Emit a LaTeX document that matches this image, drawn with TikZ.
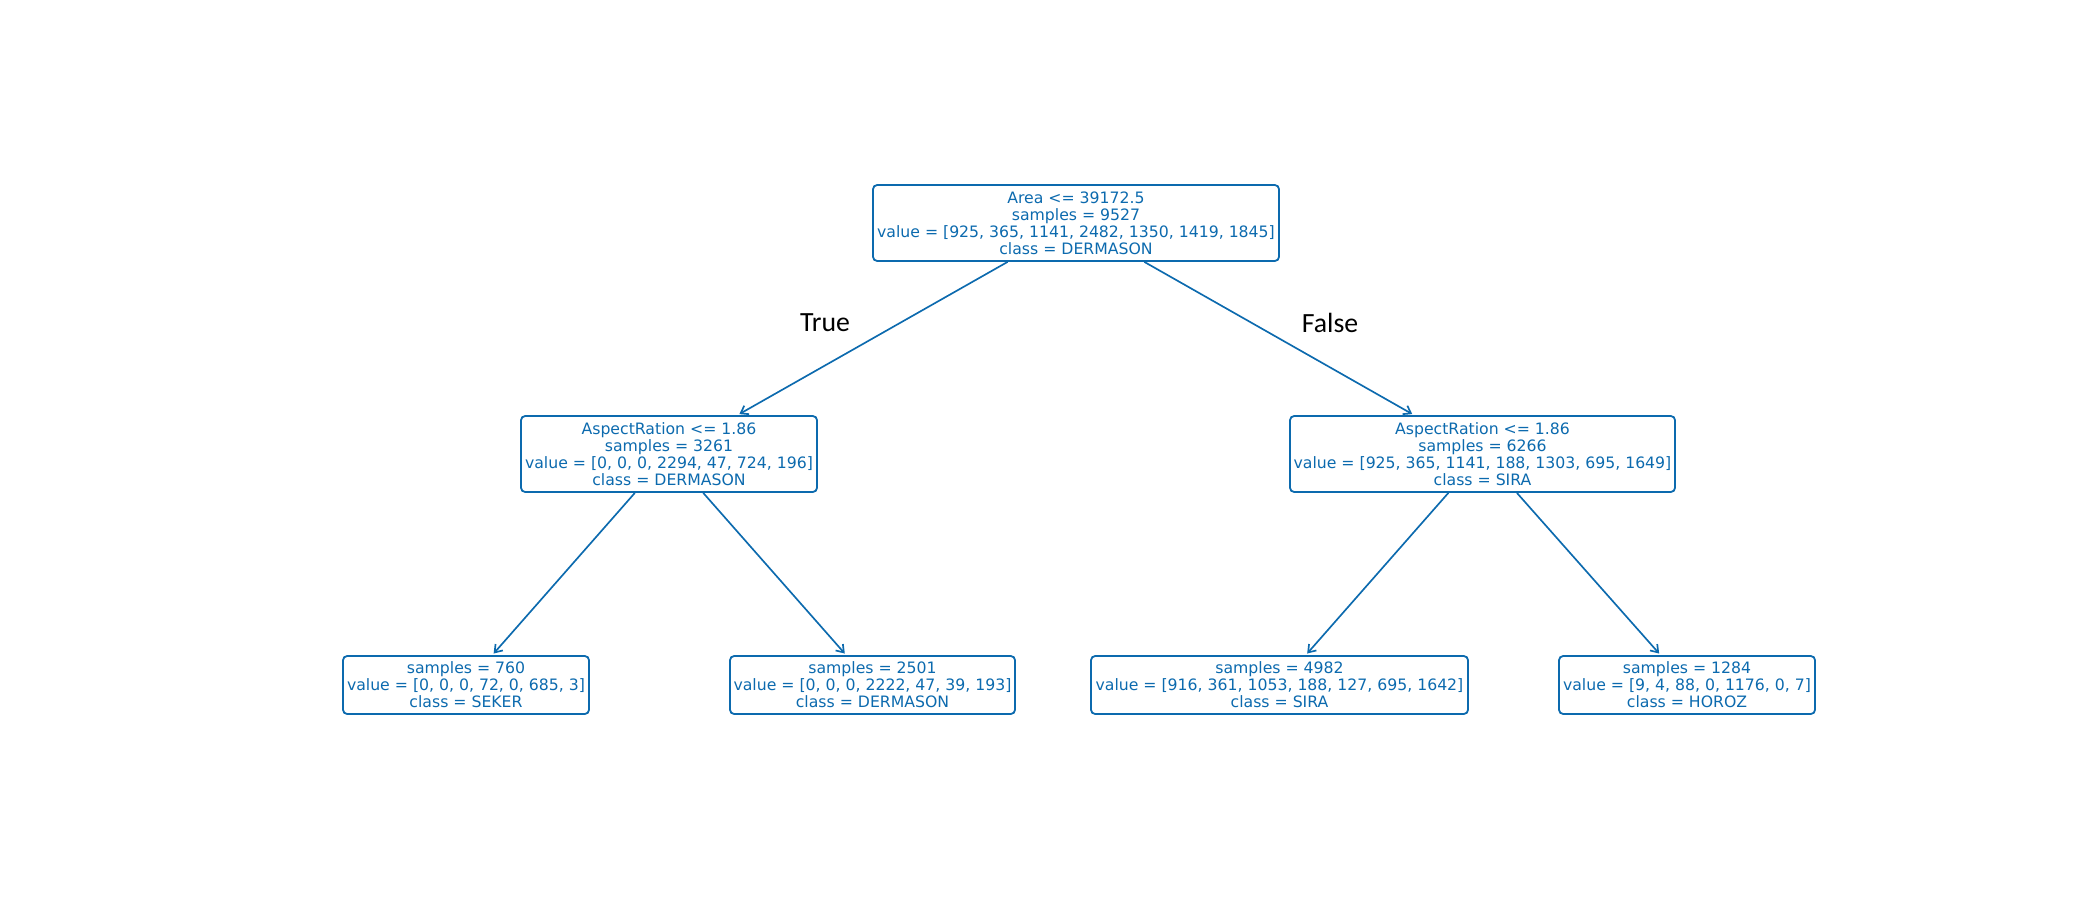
\documentclass[tikz,border=0pt]{standalone}
\usepackage{fontspec}
\setmainfont{DejaVu Sans}
\newfontfamily\lblfont{Carlito}
\usetikzlibrary{arrows.meta}
\definecolor{treeblue}{RGB}{12,106,174}
\tikzset{
  treenode/.style={draw=treeblue, text=treeblue, line width=1.3pt, rounded corners=3pt,
    align=center, inner sep=0pt, font=\fontsize{11.3}{12.3}\selectfont},
  inner4/.style={treenode, minimum height=76*0.72pt},
  leaf3/.style={treenode, minimum height=58*0.72pt},
  edge/.style={draw=treeblue, line width=1.2pt, -{Straight Barb[length=5pt,width=7pt,line width=1.2pt]}, shorten >=1.5pt},
  branchlbl/.style={font=\lblfont\fontsize{20}{24}\selectfont, text=black}
}
\begin{document}
\begin{tikzpicture}[x=0.72pt,y=-0.72pt]
\useasboundingbox (0,0) rectangle (2100,900);
\node[inner4, minimum width=406*0.72pt] (root) at (1076,223)
  {Area <= 39172.5\\samples = 9527\\value = [925, 365, 1141, 2482, 1350, 1419, 1845]\\class = DERMASON};
\node[inner4, minimum width=296*0.72pt] (l) at (669,454)
  {AspectRation <= 1.86\\samples = 3261\\value = [0, 0, 0, 2294, 47, 724, 196]\\class = DERMASON};
\node[inner4, minimum width=385*0.72pt] (r) at (1482.5,454)
  {AspectRation <= 1.86\\samples = 6266\\value = [925, 365, 1141, 188, 1303, 695, 1649]\\class = SIRA};
\node[leaf3, minimum width=246*0.72pt] (ll) at (466,685)
  {samples = 760\\value = [0, 0, 0, 72, 0, 685, 3]\\class = SEKER};
\node[leaf3, minimum width=285*0.72pt] (lr) at (872.5,685)
  {samples = 2501\\value = [0, 0, 0, 2222, 47, 39, 193]\\class = DERMASON};
\node[leaf3, minimum width=377*0.72pt] (rl) at (1279.5,685)
  {samples = 4982\\value = [916, 361, 1053, 188, 127, 695, 1642]\\class = SIRA};
\node[leaf3, minimum width=256*0.72pt] (rr) at (1687,685)
  {samples = 1284\\value = [9, 4, 88, 0, 1176, 0, 7]\\class = HOROZ};
\draw[edge] (root) -- (l);
\draw[edge] (root) -- (r);
\draw[edge] (l) -- (ll);
\draw[edge] (l) -- (lr);
\draw[edge] (r) -- (rl);
\draw[edge] (r) -- (rr);
\node[branchlbl] (t) at (825,323) {True};
\node[branchlbl] (f) at (1330,323) {False};
\end{tikzpicture}
\end{document}
